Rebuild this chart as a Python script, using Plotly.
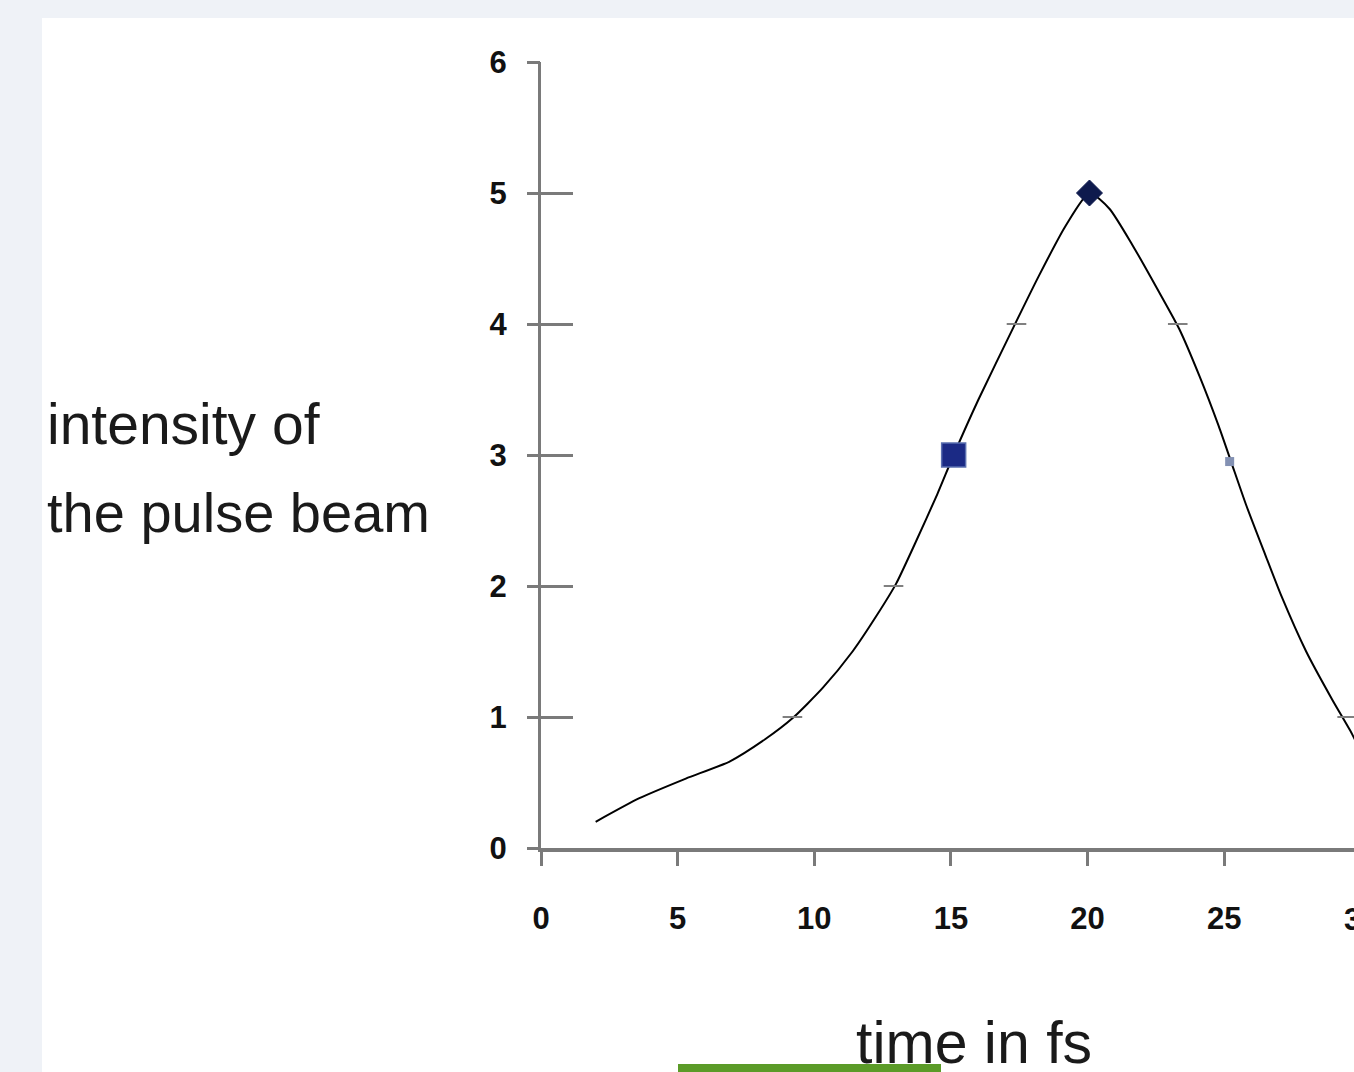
import plotly.graph_objects as go

# ---- data ----
curve_x = [2.0, 3.6, 5.3, 6.9, 8.2, 9.2, 10.3, 11.4, 12.3, 13.0, 13.7, 14.5, 15.1,
           16.0, 17.3, 18.2, 19.2, 20.07, 20.8, 21.65, 22.6, 23.36, 24.1, 24.8, 25.25,
           25.8, 26.5, 27.1, 28.0, 28.96, 29.6, 30.2]
curve_y = [0.20, 0.38, 0.53, 0.66, 0.83, 0.99, 1.22, 1.50, 1.78, 2.02, 2.33, 2.70, 3.0,
           3.42, 3.98, 4.36, 4.75, 5.0, 4.88, 4.6, 4.25, 3.96, 3.6, 3.22, 2.95,
           2.62, 2.24, 1.92, 1.50, 1.13, 0.90, 0.66]

square_x = [15.1]
square_y = [3.0]
diamond_x = [20.07]
diamond_y = [5.0]
small_x = [25.2]
small_y = [2.95]
dash_x = [9.2, 12.9, 17.4, 23.3, 29.5]
dash_y = [1.0, 2.0, 4.0, 4.0, 1.0]

x_ticks = [0, 5, 10, 15, 20, 25]
x_tick_text = ["0", "5", "10", "15", "20", "25"]
x_cut_tick = 30
y_ticks = [0, 1, 2, 3, 4, 5, 6]
y_tick_text = ["0", "1", "2", "3", "4", "5", "6"]

x_title = "time in fs"
y_title_lines = ["intensity of", "the pulse beam"]

# ---- layout geometry (pixels) ----
W, H = 1354, 1072
PL, PR, PT, PB = 541, 1354, 62, 848   # plot area
XMAX = 29.75
YMAX = 6

def px(xp):
    return (xp - PL) / (PR - PL)

def py(yp):
    return (PB - yp) / (PB - PT)

FONT = "Liberation Sans, Arial, sans-serif"
AXIS_COL = "#7a7a7a"
TICKFONT = dict(family=FONT, size=31, color="#111111", weight="bold")

fig = go.Figure()

fig.add_trace(go.Scatter(
    x=curve_x, y=curve_y, mode="lines",
    line=dict(color="black", width=2, shape="spline", smoothing=0.6),
    hoverinfo="skip", showlegend=False))

fig.add_trace(go.Scatter(
    x=dash_x, y=dash_y, mode="markers",
    marker=dict(symbol="line-ew", size=14, line=dict(color="#808080", width=2)),
    showlegend=False))

fig.add_trace(go.Scatter(
    x=square_x, y=square_y, mode="markers",
    marker=dict(symbol="square", size=24, color="#1b2a85",
                line=dict(color="#5a6fb0", width=1.5)),
    showlegend=False))

fig.add_trace(go.Scatter(
    x=diamond_x, y=diamond_y, mode="markers",
    marker=dict(symbol="diamond", size=20, color="#0e1a4d",
                line=dict(color="#0e1a4d", width=1)),
    showlegend=False))

fig.add_trace(go.Scatter(
    x=small_x, y=small_y, mode="markers",
    marker=dict(symbol="square", size=9, color="#8391b3"),
    showlegend=False))

# second y axis only for the short outward tick stubs and labels
fig.add_trace(go.Scatter(x=[None], y=[None], yaxis="y2", showlegend=False))

annotations = [
    dict(text=y_title_lines[0], xref="paper", yref="paper", x=px(45), y=py(390),
         xanchor="left", yanchor="top", align="left", showarrow=False,
         font=dict(family=FONT, size=57, color="#1a1a1a")),
    dict(text=y_title_lines[1], xref="paper", yref="paper", x=px(45), y=py(479),
         xanchor="left", yanchor="top", align="left", showarrow=False,
         font=dict(family=FONT, size=56, color="#1a1a1a")),
    dict(text=x_title, xref="paper", yref="paper", x=px(973.5), y=py(1008),
         xanchor="center", yanchor="top", showarrow=False,
         font=dict(family=FONT, size=59, color="#1a1a1a")),
    dict(text=str(x_cut_tick), xref="paper", yref="paper", x=x_cut_tick / XMAX,
         y=py(919), xanchor="center", yanchor="middle", showarrow=False,
         font=TICKFONT),
]

fig.update_layout(
    width=W, height=H,
    margin=dict(l=PL, r=W - PR, t=PT, b=H - PB, pad=0),
    paper_bgcolor="#eff2f7",
    plot_bgcolor="white",
    showlegend=False,
    xaxis=dict(
        range=[0, XMAX], tickvals=x_ticks, ticktext=x_tick_text,
        showgrid=False, zeroline=False,
        showline=True, linecolor=AXIS_COL, linewidth=4,
        ticks="outside", ticklen=14, tickwidth=3, tickcolor=AXIS_COL,
        tickfont=TICKFONT,
        ticklabelstandoff=26,
    ),
    yaxis=dict(
        range=[0, YMAX], tickvals=y_ticks,
        showgrid=False, zeroline=False,
        showline=True, linecolor=AXIS_COL, linewidth=3,
        ticks="inside", ticklen=32, tickwidth=3, tickcolor=AXIS_COL,
        showticklabels=False,
    ),
    yaxis2=dict(
        range=[0, YMAX], tickvals=y_ticks, ticktext=y_tick_text,
        overlaying="y", side="left", anchor="x",
        showgrid=False, zeroline=False, showline=False,
        ticks="outside", ticklen=13, tickwidth=3, tickcolor=AXIS_COL,
        tickfont=TICKFONT,
        ticklabelstandoff=14,
    ),
    shapes=[
        dict(type="rect", xref="paper", yref="paper", layer="below",
             x0=px(42), x1=px(W + 5), y0=py(H + 5), y1=py(18),
             fillcolor="white", line=dict(width=0)),
        dict(type="rect", xref="paper", yref="paper", layer="above",
             x0=px(678), x1=px(941), y0=py(H + 5), y1=py(1064),
             fillcolor="#5b9b28", line=dict(width=0)),
    ],
    annotations=annotations,
)

fig.write_html("out.html",
               config={"displayModeBar": False},
               post_script="document.body.style.margin='0';document.body.style.overflow='hidden';")
